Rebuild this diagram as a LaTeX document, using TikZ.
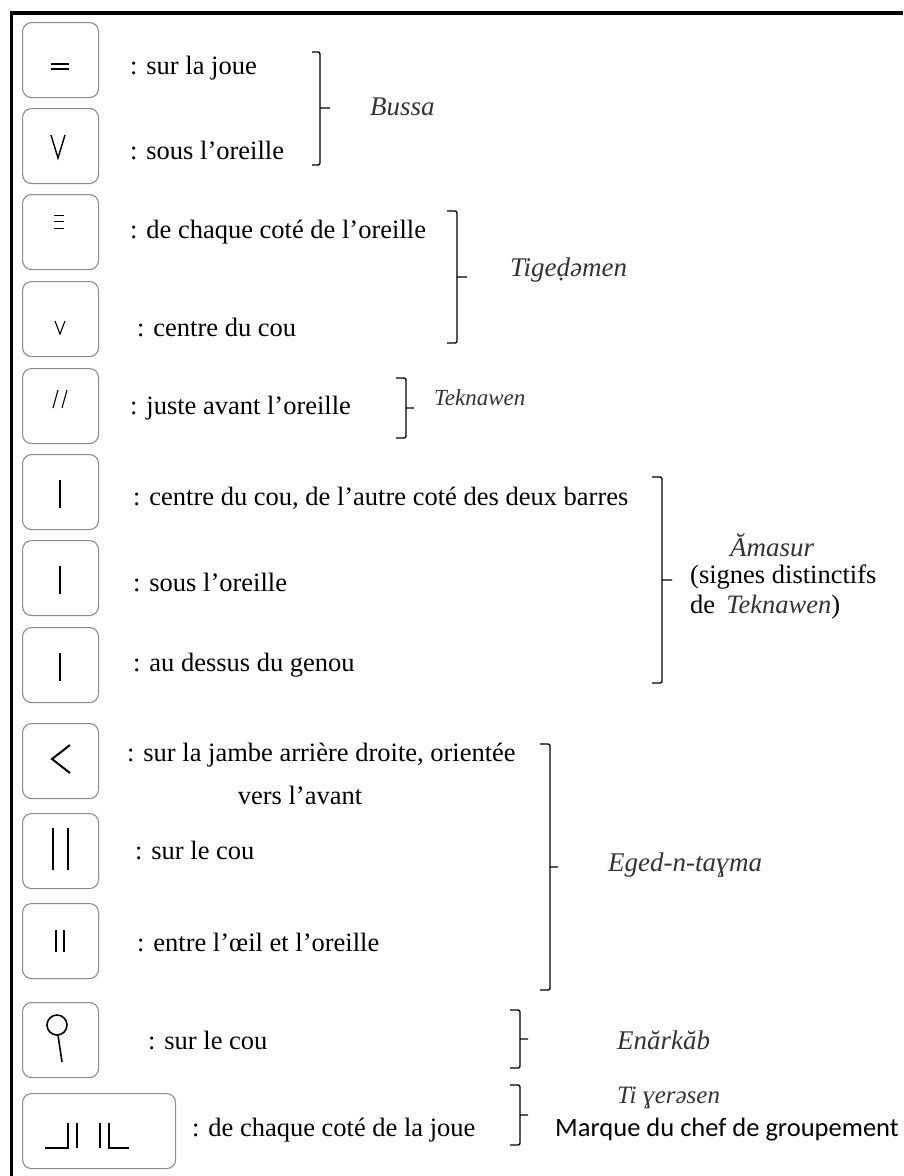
\documentclass[tikz,border=0pt]{standalone}
\usepackage{fontspec}
\setmainfont{Liberation Serif}
\newfontfamily\calfont{Carlito}

\tikzset{
  markbox/.style={draw=black!45, rounded corners=9pt, line width=1.1pt, minimum width=76pt, minimum height=75pt, anchor=north west, inner sep=0pt},
  desc/.style={anchor=west, inner sep=0pt, font=\fontsize{26.5}{30}\selectfont},
  tribe/.style={anchor=west, inner sep=0pt, text=black!80, font=\fontsize{27}{31}\selectfont\itshape},
  brace/.style={line width=1.4pt, rounded corners=2pt},
  sign/.style={line width=1.6pt}
}

\begin{document}
\begin{tikzpicture}[x=1pt,y=1pt,yscale=-1,xscale=1]
\useasboundingbox (0,0) rectangle (903,1176);

%Frame
\draw [line width=3.5pt] (11.5,1176) -- (11.5,13) -- (903,13) ;

%Boxes
\node [markbox] (b1) at (22,22) {};
\node [markbox] (b2) at (22,108) {};
\node [markbox] (b3) at (22,194) {};
\node [markbox] (b4) at (22,281) {};
\node [markbox] (b5) at (22,368) {};
\node [markbox] (b6) at (22,454) {};
\node [markbox] (b7) at (22,540) {};
\node [markbox] (b8) at (22,627) {};
\node [markbox] (b9) at (22,723) {};
\node [markbox] (b10) at (22,813) {};
\node [markbox] (b11) at (22,903) {};
\node [markbox] (b12) at (22,1002) {};
\node [markbox, minimum width=153pt] (b13) at (22,1093) {};

%Signs
\draw [sign, line width=2pt] (51,64) -- (69,64) (51,69) -- (69,69) ;
\draw [sign, line width=1.4pt] (51,135) -- (58,158) -- (65,135) ;
\draw [sign, line width=1pt] (54,215) -- (64,215) (54,221.5) -- (64,221.5) (54,228) -- (64,228) ;
\draw [sign, line width=1.1pt] (55,321) -- (60,334) -- (65,321) ;
\draw [sign, line width=1.1pt] (53,408) -- (58,390) (62,408) -- (67,390) ;
\draw [sign] (60,480) -- (60,508) ;
\draw [sign] (60,566) -- (60,594) ;
\draw [sign] (60,653) -- (60,681) ;
\draw [sign, line width=2pt] (70,745) -- (52,759) -- (70,773) ;
\draw [sign, line width=1.8pt] (53,828) -- (53,870) (68,828) -- (68,870) ;
\draw [sign, line width=1.8pt] (56,930) -- (56,952) (64,930) -- (64,952) ;
\draw [sign] (57,1025) circle (10) ;
\draw [sign] (58,1035) -- (62,1062) ;
\draw [sign] (45,1148) -- (68,1148) -- (68,1123) (77,1123) -- (77,1148) (100,1123) -- (100,1148) (109,1123) -- (109,1148) -- (129,1148) ;

% Text Node
\node [desc] (t1) at (130,68) {: sur la joue};
\node [desc] (t2) at (130,150) {: sous l’oreille};
\node [desc] (t3) at (130,232) {: de chaque coté de l’oreille};
\node [desc] (t4) at (137,327) {: centre du cou};
\node [desc] (t5) at (130,408) {: juste avant l’oreille};
\node [desc] (t6) at (133,498) {: centre du cou, de l’autre coté des deux barres};
\node [desc] (t7) at (133,582) {: sous l’oreille};
\node [desc] (t8) at (133,665) {: au dessus du genou};
\node [desc] (t9) at (127,755) {: sur la jambe arrière droite, orientée};
\node [desc, anchor=center] (t9b) at (300,795) {vers l’avant};
\node [desc] (t10) at (135,850) {: sur le cou};
\node [desc] (t11) at (137,942) {: entre l’œil et l’oreille};
\node [desc] (t12) at (148,1040) {: sur le cou};
\node [desc] (t13) at (192,1130) {: de chaque coté de la joue};

%Brackets
\draw [brace] (312,52) -- (320,52) -- (320,165) -- (312,165) (320,108) -- (330,108) ;
\draw [brace] (447,211) -- (457,211) -- (457,343) -- (447,343) (457,277) -- (467,277) ;
\draw [brace] (396,378) -- (406,378) -- (406,438) -- (396,438) (406,408) -- (414,408) ;
\draw [brace] (652,477) -- (662,477) -- (662,683) -- (652,683) (662,580) -- (672,580) ;
\draw [brace] (540,744) -- (550,744) -- (550,990) -- (540,990) (550,867) -- (558,867) ;
\draw [brace] (510,1010) -- (520,1010) -- (520,1068) -- (510,1068) (520,1039) -- (528,1039) ;
\draw [brace] (510,1085) -- (520,1085) -- (520,1145) -- (510,1145) (520,1115) -- (528,1115) ;

% Group labels
\node [tribe] (bussa) at (370,107) {Bussa};
\node [tribe] (tigedmen) at (510,270) {Tigeḍəmen};
\node [tribe, font=\fontsize{23}{27}\selectfont\itshape] (teknawen) at (434,398) {Teknawen};
\node [tribe] (amasur) at (730,545) {Ămasur};
\node [desc] (signes) at (690,577) {(signes distinctifs};
\node [desc] (signesb) at (690,607) {de \,\textit{\color{black!80}Teknawen})};
\node [tribe] (eged) at (608,865) {Eged-n-taɣma};
\node [tribe] (enarkab) at (617,1040) {Enărkăb};
\node [tribe, font=\fontsize{25}{29}\selectfont\itshape] (tiyeresen) at (617,1098) {Ti ɣerəsen};
\node [anchor=west, inner sep=0pt, font=\calfont\fontsize{26.5}{30}\selectfont] (marque) at (555,1130) {Marque du chef de groupement};

\end{tikzpicture}
\end{document}
